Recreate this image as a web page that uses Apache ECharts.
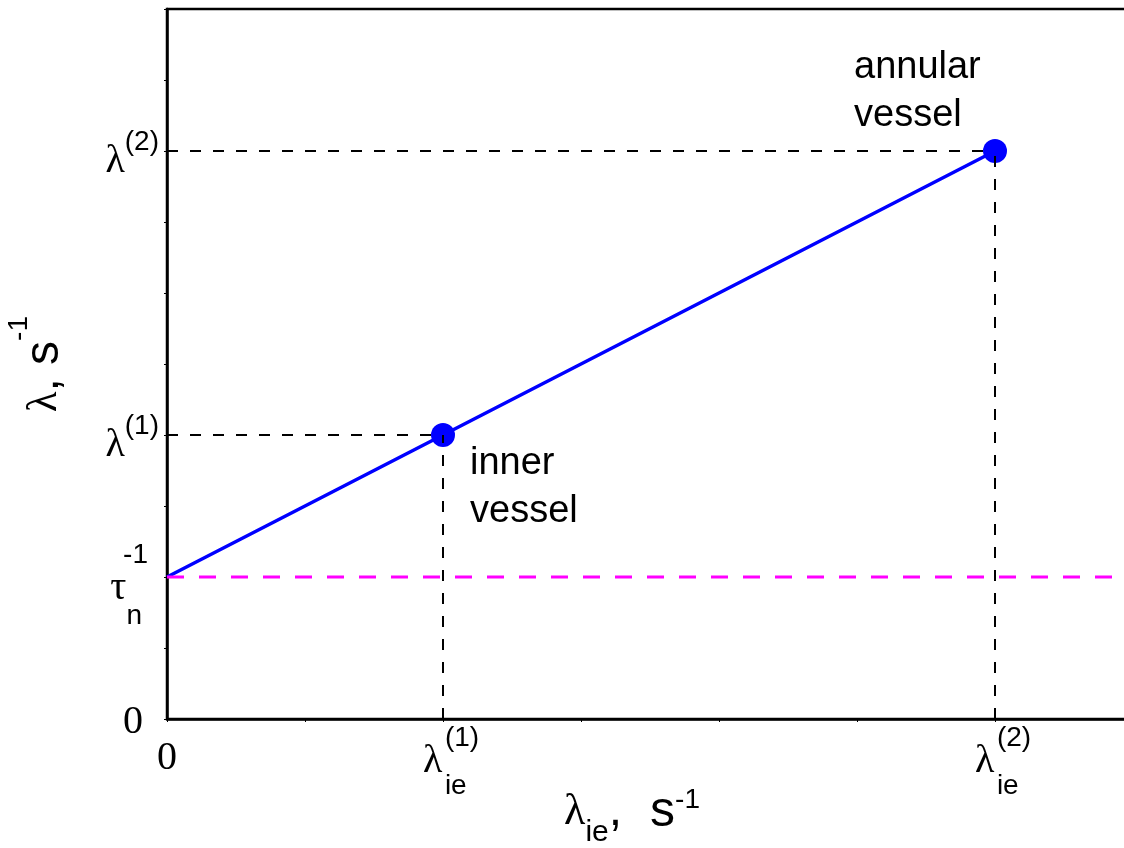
<!DOCTYPE html>
<html>
<head>
<meta charset="utf-8">
<script src="https://cdn.jsdelivr.net/npm/echarts@6/dist/echarts.min.js"></script>
<style>
  html, body { margin: 0; padding: 0; background: #ffffff; }
  #chart { width: 1124px; height: 848px; }
</style>
</head>
<body>
<div id="chart"></div>
<script>
// Decay constant λ as a function of the exchange rate λ_ie.
const xMax = 7;
const yMax = 5;

// Tick positions that carry a label, and what each label says.
const xTickValues = [0, 2, 6];
const xTickLabels = [
  { base: '0' },
  { base: 'λ', sub: 'ie', sup: '(1)' },
  { base: 'λ', sub: 'ie', sup: '(2)' }
];
const yTickValues = [0, 1, 2, 4];
const yTickLabels = [
  { base: '0' },
  { base: 'τ', sub: 'n', sup: '-1' },
  { base: 'λ', sup: '(1)' },
  { base: 'λ', sup: '(2)' }
];

// Linear relation: intercept at 1/τ_n, then the two vessels.
const lambdaIe = [0, 2, 6];
const lambdaVal = [1, 2, 4];
const pointNames = ['', 'inner\nvessel', 'annular\nvessel'];
const tauInv = 1;

const SERIF = 'Liberation Serif';
const SANS = 'Liberation Sans';

function findLabel(values, labels, v) {
  const i = values.findIndex(t => Math.abs(t - v) < 1e-9);
  return i < 0 ? null : labels[i];
}

function xLabel(v) {
  const lab = findLabel(xTickValues, xTickLabels, v);
  if (!lab) return '';
  if (!lab.sup) return '{xz|' + lab.base + '}';
  return '{xs1| }{xsup|' + lab.sup + '}\n' +
         '{xs0| }{xl|' + lab.base + '}\n' +
         '{xs3| }{xsub|' + lab.sub + '}';
}

function yLabel(v) {
  const lab = findLabel(yTickValues, yTickLabels, v);
  if (!lab) return '';
  if (!lab.sup) return '{yz|' + lab.base + '}';
  if (lab.sub) return '{ts|' + lab.sup + '}\n{tt|' + lab.base + '}{tn|' + lab.sub + '}';
  return '{yl|' + lab.base + '}{ysup|' + lab.sup + '}';
}

// Dashed guides from each vessel point to both axes.
const guideSeries = [];
lambdaIe.forEach((x, i) => {
  if (i === 0) return;
  const y = lambdaVal[i];
  [[[0, y], [x, y]], [[x, 0], [x, y]]].forEach(seg => {
    guideSeries.push({
      type: 'line',
      data: seg,
      symbol: 'none',
      silent: true,
      z: 5,
      lineStyle: { color: '#000000', width: 2, type: [11, 12] }
    });
  });
});

const pointLabels = [
  null,
  { show: true, position: [39, 17], align: 'left', verticalAlign: 'top' },
  { show: true, position: [-129, -95], align: 'left', verticalAlign: 'top' }
];

const mainData = lambdaIe.map((x, i) => {
  const item = { value: [x, lambdaVal[i]], symbolSize: i === 0 ? 0 : 24 };
  if (pointLabels[i]) {
    item.label = Object.assign({
      formatter: pointNames[i],
      fontFamily: SANS,
      fontSize: 38,
      lineHeight: 48,
      color: '#000000'
    }, pointLabels[i]);
  }
  return item;
});

const chart = echarts.init(document.getElementById('chart'), null, { renderer: 'canvas' });

chart.setOption({
  animation: false,
  backgroundColor: '#ffffff',
  grid: {
    left: 167, top: 9, right: -9, bottom: 129,
    outerBoundsMode: 'none',
    containLabel: false,
    show: true, borderColor: '#000000', borderWidth: 2.5, backgroundColor: 'transparent'
  },
  xAxis: {
    type: 'value',
    min: 0, max: xMax, interval: 1,
    splitLine: { show: false },
    axisLine: { show: true, onZero: false, lineStyle: { color: '#000000', width: 2.5 } },
    axisTick: { show: true, length: 3, lineStyle: { color: '#000000', width: 1 } },
    axisLabel: {
      show: true, margin: 8, color: '#000000', formatter: xLabel,
      showMinLabel: true, showMaxLabel: true,
      rich: {
        xz:   { fontFamily: SERIF, fontSize: 40, lineHeight: 62, align: 'center' },
        xs0:  { width: 16, lineHeight: 24, align: 'left', fontSize: 10 },
        xs1:  { width: 38, lineHeight: 22, align: 'left', fontSize: 10 },
        xs3:  { width: 38, lineHeight: 26, align: 'left', fontSize: 10 },
        xl:   { fontFamily: SERIF, fontSize: 40, width: 22, lineHeight: 24, align: 'left' },
        xsup: { fontFamily: SANS, fontSize: 28, lineHeight: 22, align: 'left' },
        xsub: { fontFamily: SANS, fontSize: 28, lineHeight: 26, align: 'left' }
      }
    },
    name: '{l|λ}{sub|ie}{c|,}{s|s}{sup|-1}',
    nameLocation: 'middle',
    nameGap: 73,
    nameMoveOverlap: false,
    nameTextStyle: {
      color: '#000000',
      padding: [0, 36, 0, 0],
      rich: {
        l:   { fontFamily: SERIF, fontSize: 44, lineHeight: 40 },
        sub: { fontFamily: SANS, fontSize: 30, lineHeight: 40, padding: [42, 0, 0, 0] },
        c:   { fontFamily: SANS, fontSize: 48, lineHeight: 40 },
        s:   { fontFamily: SANS, fontSize: 50, lineHeight: 40, padding: [0, 0, 0, 28] },
        sup: { fontFamily: SANS, fontSize: 28, lineHeight: 40, padding: [0, 0, 24, 0] }
      }
    }
  },
  yAxis: {
    type: 'value',
    min: 0, max: yMax, interval: 0.5,
    splitLine: { show: false },
    axisLine: { show: true, onZero: false, lineStyle: { color: '#000000', width: 2.5 } },
    axisTick: { show: true, length: 3, lineStyle: { color: '#000000', width: 1 } },
    axisLabel: {
      show: true, margin: 8, color: '#000000', formatter: yLabel,
      showMinLabel: true, showMaxLabel: true,
      rich: {
        yz:   { fontFamily: SERIF, fontSize: 40, lineHeight: 40, padding: [6, 16, 0, 0] },
        yl:   { fontFamily: SERIF, fontSize: 40, lineHeight: 60, padding: [20, 0, 0, 0] },
        ysup: { fontFamily: SANS, fontSize: 28, lineHeight: 46, padding: [0, 0, 18, 0] },
        ts:   { fontFamily: SANS, fontSize: 28, lineHeight: 30, padding: [0, 11, 4, 0] },
        tt:   { fontFamily: SERIF, fontSize: 40, lineHeight: 40, padding: [0, 0, 8, 0] },
        tn:   { fontFamily: SANS, fontSize: 28, lineHeight: 40, padding: [48, 17, 0, 0] }
      }
    },
    name: '{l|λ}{t|, s}{sup|-1}',
    nameLocation: 'middle',
    nameGap: 100,
    nameMoveOverlap: false,
    nameTextStyle: {
      color: '#000000',
      rich: {
        l:   { fontFamily: SERIF, fontSize: 42, lineHeight: 44 },
        t:   { fontFamily: SANS, fontSize: 48, lineHeight: 44 },
        sup: { fontFamily: SANS, fontSize: 28, lineHeight: 44, padding: [0, 0, 52, 0] }
      }
    }
  },
  series: [
    {
      type: 'line',
      data: mainData,
      symbol: 'circle',
      silent: true,
      z: 3,
      lineStyle: { color: '#0000ff', width: 3.5 },
      itemStyle: { color: '#0000ff' }
    },
    {
      type: 'line',
      data: [[0, tauInv], [xMax, tauInv]],
      symbol: 'none',
      silent: true,
      z: 4,
      lineStyle: { color: '#ff00ff', width: 3, type: [17, 15] }
    }
  ].concat(guideSeries)
});
</script>
</body>
</html>
